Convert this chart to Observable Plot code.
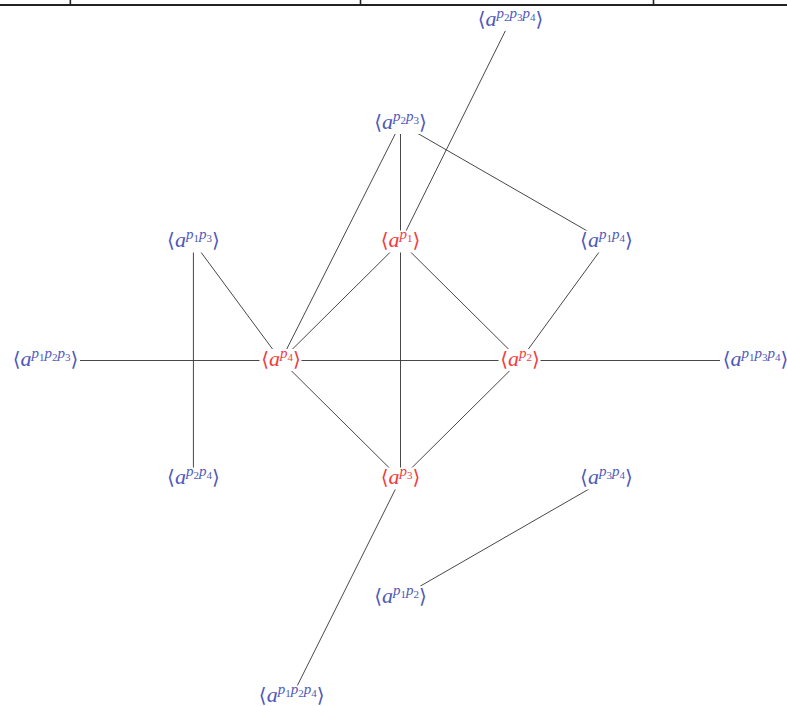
<!DOCTYPE html>
<html><head><meta charset="utf-8">
<script src="https://cdn.jsdelivr.net/npm/d3@7"></script>
<script src="https://cdn.jsdelivr.net/npm/@observablehq/plot@0.6"></script>
<style>body{margin:0;background:#fff}</style>
</head><body><div id="chart"></div>
<script>
// node labels (exponent subscripts) and their positions in grid units
const nodeNames = ["p2p3p4","p2p3","p1","p1p3","p1p4","p1p2p3","p4","p2","p1p3p4","p2p4","p3","p3p4","p1p2","p1p2p4"];
const nodeX = [0.93, 0, 0, -1.75, 1.74, -3, -1.01, 1.01, 3, -1.75, 0, 1.74, 0, -0.92];
const nodeY = [2.87, 2, 1, 1, 1, 0, 0, 0, 0, -1, -1, -1, -2, -2.84];
const primes = ["p1","p2","p3","p4"];
// edges
const edgeFrom = ["p2p3p4","p2p3","p2p3","p2p3","p1","p1","p1","p1p4","p1p3","p1p3","p1p2p3","p4","p2","p4","p2","p3","p3p4"];
const edgeTo   = ["p1","p1","p4","p1p4","p4","p2","p3","p2","p4","p2p4","p4","p2","p1p3p4","p3","p3","p1p2p4","p1p2"];
// cropped table border at top
const tableRuleY = [3];
const tableDividersX = [-2.79, -0.338, 2.138];

const nodes = nodeNames.map((name, i) => ({name, x: nodeX[i], y: nodeY[i], kind: primes.includes(name) ? "prime" : "compound", n: name.length / 2}));
const byName = new Map(nodes.map(d => [d.name, d]));
const edges = edgeFrom.map((f, i) => ({a: byName.get(f), b: byName.get(edgeTo[i])}));

const ux = 710 / 6, uy = 711 / 6;
const halfW = d => (14 + 7 * d.n) / ux;
const halfH = 11 / uy;

const plot = Plot.plot({
  width: 787, height: 706, margin: 0,
  x: {domain: [-3, 3], range: [45, 755], axis: null},
  y: {domain: [-3, 3], range: [715.5, 4.5], axis: null},
  color: {domain: ["prime", "compound"], range: ["#f23c3c", "#5058ba"]},
  marks: [
    Plot.ruleY(tableRuleY, {stroke: "#222", strokeWidth: 1.8}),
    Plot.ruleX(tableDividersX, {y1: 3, y2: 3.2, stroke: "#222", strokeWidth: 1.6}),
    Plot.link(edges, {x1: d => d.a.x, y1: d => d.a.y, x2: d => d.b.x, y2: d => d.b.y, stroke: "#333", strokeWidth: 0.9}),
    Plot.rect(nodes, {x1: d => d.x - halfW(d), x2: d => d.x + halfW(d), y1: d => d.y - halfH, y2: d => d.y + halfH, fill: "white"}),
    Plot.text(nodes, {x: "x", y: "y", text: "name", fill: "kind", fontSize: 20, fontFamily: "DejaVu Serif, serif", dy: -1})
  ]
});

// typeset labels as <a^{p_i p_j ...}>
d3.select(plot).selectAll('g[aria-label="text"] text').each(function() {
  const name = this.textContent;
  const digits = name.match(/\d/g);
  const t = d3.select(this);
  t.text(null);
  t.append("tspan").attr("font-size", 20).text("\u27E8");
  t.append("tspan").attr("font-style", "italic").attr("font-family", "Liberation Serif").attr("font-size", 22).text("a");
  let off = 0;
  digits.forEach((dg, i) => {
    const up = -8 - off;
    t.append("tspan").attr("font-style", "italic").attr("font-family", "Liberation Serif").attr("font-size", 15).attr("dy", up).text("p");
    t.append("tspan").attr("font-family", "Liberation Serif").attr("font-size", 11).attr("dy", 3).text(dg);
    off = -5;
  });
  t.append("tspan").attr("font-size", 20).attr("dy", 5).text("\u27E9");
});

document.getElementById("chart").append(plot);
</script>
</body></html>
